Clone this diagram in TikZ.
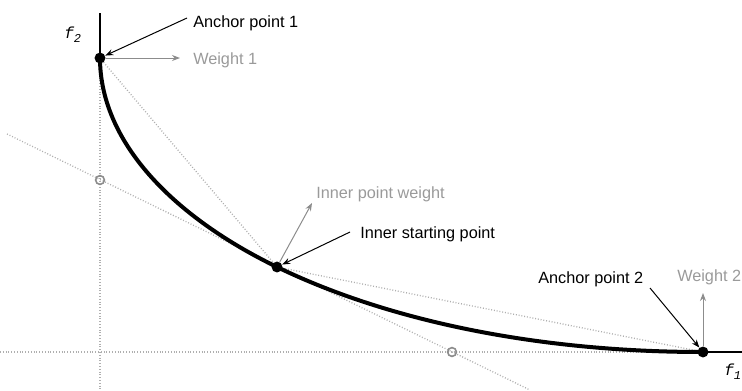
\documentclass[tikz,border=0pt]{standalone}
\usepackage{fontspec}
\setmainfont{Liberation Sans}
\newfontfamily\monof{Liberation Mono}
\usetikzlibrary{arrows.meta}
\definecolor{guidegray}{HTML}{AFAFAF}
\definecolor{wgray}{HTML}{8C8C8C}
\definecolor{tgray}{HTML}{9A9A9A}
\begin{document}
\begin{tikzpicture}[x=0.75pt,y=-0.75pt,
  guide/.style={draw=guidegray, line width=1pt, dash pattern=on 0.7pt off 1.4pt},
  axisline/.style={draw=black, line width=1.5pt},
  curveline/.style={draw=black, line width=3pt},
  bigdot/.style={circle, fill=black, inner sep=0pt, minimum size=8.2pt},
  opendot/.style={circle, draw=wgray, line width=1.2pt, inner sep=0pt, minimum size=6.6pt},
  callout/.style={draw=black, line width=0.75pt, -{Stealth[length=6pt,width=4.5pt]}},
  weightarrow/.style={draw=wgray, line width=0.75pt, -{Stealth[length=6pt,width=4.5pt]}},
  lbl/.style={inner sep=0pt, font=\fontsize{12.2}{14}\selectfont, anchor=base west},
  blbl/.style={lbl, text=black},
  glbl/.style={lbl, text=tgray},
  axlbl/.style={inner sep=0pt, font=\fontsize{12}{14}\monof\itshape, anchor=base west}
]
\useasboundingbox (0,0) rectangle (742,390);

% key coordinates
\coordinate (A1) at (100,58);
\coordinate (IP) at (277,267);
\coordinate (A2) at (703,352);
\coordinate (vtop) at (100,13);
\coordinate (vbot) at (100,390);
\coordinate (hleft) at (0,352);
\coordinate (hright) at (742,352);
\coordinate (sl1) at (7,134);
\coordinate (sl2) at (530,390);

% guides
\draw[guide] (A1) -- (vbot);
\draw[guide] (hleft) -- (A2);
\draw[guide] (sl1) -- (sl2);
\draw[guide] (A1) -- (IP);
\draw[guide] (IP) -- (A2);

% open circles
\node[opendot] (C1) at (100,180) {};
\node[opendot] (C2) at (452,352) {};

% axes (solid parts)
\draw[axisline] (vtop) -- (A1);
\draw[axisline] (A2) -- (hright);

% Pareto curve
\draw[curveline] (A1) .. controls (100,140) and (170,215) .. (IP)
                 .. controls (397,325) and (550,352) .. (A2);

% points
\node[bigdot] (P1) at (A1) {};
\node[bigdot] (P2) at (IP) {};
\node[bigdot] (P3) at (A2) {};

% axis labels
\node[axlbl] (F2) at (64,38) {f\raisebox{-0.55ex}{\fontsize{9}{10}\selectfont 2}};
\node[axlbl] (F1) at (724,375) {f\raisebox{-0.55ex}{\fontsize{9}{10}\selectfont 1}};

% labels
\node[blbl] (AP1) at (193,27) {Anchor point 1};
\node[glbl] (W1) at (193,64) {Weight 1};
\node[glbl] (IPW) at (316,198) {Inner point weight};
\node[blbl] (ISP) at (360,238) {Inner starting point};
\node[blbl] (AP2) at (538,283) {Anchor point 2};
\node[glbl] (W2) at (677,281) {Weight 2};

% callout start/end coordinates
\coordinate (AP1s) at (187,18);
\coordinate (W1t) at (180,58);
\coordinate (IPWt) at (312,203);
\coordinate (ISPs) at (350,232);
\coordinate (AP2s) at (650,288);
\coordinate (W2t) at (703,293);

% arrows
\draw[callout] (AP1s) -- (P1);
\draw[weightarrow] (P1) -- (W1t);
\draw[weightarrow] (P2) -- (IPWt);
\draw[callout] (ISPs) -- (P2);
\draw[callout] (AP2s) -- (P3);
\draw[weightarrow] (P3) -- (W2t);
\end{tikzpicture}
\end{document}
